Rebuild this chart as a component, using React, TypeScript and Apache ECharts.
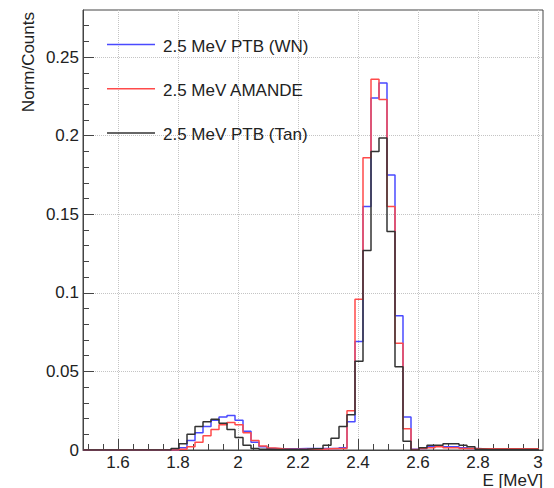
import React, { useEffect, useRef } from "react";
import * as echarts from "echarts";

// Axis ranges (E in MeV, normalised counts)
const X_MIN = 1.4833;
const X_MAX = 3.0167;
const Y_MIN = 0;
const Y_MAX = 0.28;

// Histogram binning
const BIN_START = 1.48333;
const BIN_WIDTH = 0.026667;

// Tick labels
const xMajorTicks = [1.6, 1.8, 2, 2.2, 2.4, 2.6, 2.8, 3];
const yMajorTicks = [0, 0.05, 0.1, 0.15, 0.2, 0.25];

const seriesNames = ["2.5 MeV PTB (WN)", "2.5 MeV AMANDE", "2.5 MeV PTB (Tan)"];
const seriesColors = ["#4a4aff", "#ff4a4a", "#333333"];

// Bin contents (57 bins from BIN_START)
const ptbWN = [
  0, 0, 0, 0, 0, 0, 0, 0, 0, 0, 0,
  0, 0.0015, 0.006, 0.011, 0.015, 0.019, 0.021, 0.022, 0.019, 0.012,
  0.005, 0.002, 0.001, 0.0008, 0.0008, 0.0008, 0.001, 0.001, 0.001, 0.001,
  0.001, 0.0015, 0.018, 0.069, 0.155, 0.224, 0.2335, 0.175, 0.0855, 0.021,
  0.0005, 0.001, 0.002, 0.0025, 0.002, 0.002, 0.0015, 0.001, 0.0008,
  0.0008, 0.0008, 0.0008, 0.0008, 0.0008, 0.0008, 0.0008,
];
const amande = [
  0, 0, 0, 0, 0, 0, 0, 0, 0, 0, 0,
  0, 0.0005, 0.002, 0.005, 0.009, 0.013, 0.016, 0.0175, 0.016, 0.011,
  0.006, 0.0025, 0.0012, 0.0008, 0.0005, 0.0005, 0.0005, 0.0005, 0.0005, 0.0008,
  0.001, 0.001, 0.025, 0.096, 0.186, 0.236, 0.223, 0.155, 0.068, 0.0135,
  0.0003, 0.001, 0.0015, 0.002, 0.0015, 0.0015, 0.001, 0.001, 0.0008,
  0.0008, 0.0008, 0.0008, 0.0008, 0.0008, 0.0008, 0.0008,
];
const ptbTan = [
  0, 0, 0, 0, 0, 0, 0, 0, 0, 0, 0,
  0.001, 0.004, 0.01, 0.015, 0.018, 0.0195, 0.017, 0.013, 0.008, 0.003,
  0.001, 0.0005, 0.0003, 0.0003, 0.0003, 0.0003, 0.0005, 0.0008, 0.001, 0.003,
  0.0075, 0.015, 0.0225, 0.0564, 0.127, 0.19, 0.1985, 0.139, 0.053, 0.0055,
  0, 0.0015, 0.003, 0.003, 0.004, 0.004, 0.003, 0.002, 0.0005,
  0.0003, 0.0003, 0.0003, 0.0003, 0.0003, 0.0003, 0.0003,
];

const seriesValues = [ptbWN, amande, ptbTan];

const FONT = '"Liberation Sans", Arial, Helvetica, sans-serif';
const TEXT_COLOR = "#222";
const FRAME_COLOR = "#444";

function histPoints(values: number[]): number[][] {
  const pts: number[][] = [];
  values.forEach((v, k) => {
    pts.push([BIN_START + k * BIN_WIDTH, v]);
  });
  const last = values[values.length - 1];
  pts.push([BIN_START + values.length * BIN_WIDTH, last]);
  return pts;
}

function minorValues(from: number, to: number, step: number, majors: number[], decimals: number): number[] {
  const out: number[] = [];
  const n = Math.round((to - from) / step);
  for (let i = 0; i <= n; i++) {
    const v = Number((from + i * step).toFixed(decimals));
    if (!majors.some((m) => Math.abs(m - v) < 1e-9)) out.push(v);
  }
  return out;
}

const xMinorTicks = minorValues(1.5, 3.0, 0.05, xMajorTicks, 2);
const yMinorTicks = minorValues(0, 0.27, 0.01, yMajorTicks, 2);

export default function App() {
  const ref = useRef<HTMLDivElement>(null);

  useEffect(() => {
    if (!ref.current) return;
    const chart = echarts.init(ref.current, null, { renderer: "svg" });

    const gridLine = { show: true, lineStyle: { color: "#c4c4c4", type: "dotted" as const, width: 1 } };

    const legendGraphics: any[] = [];
    seriesNames.forEach((name, i) => {
      const y = 44.5 + i * 44.2;
      legendGraphics.push({
        type: "line",
        shape: { x1: 107, y1: y, x2: 155, y2: y },
        style: { stroke: seriesColors[i], lineWidth: 1.5 },
        z: 100,
      });
      legendGraphics.push({
        type: "text",
        x: 163,
        y: y + 1.5,
        style: {
          text: name,
          font: `17px ${FONT}`,
          fill: TEXT_COLOR,
          align: "left",
          verticalAlign: "middle",
        },
        z: 100,
      });
    });

    const option: any = {
      animation: false,
      backgroundColor: "#ffffff",
      grid: {
        left: 83,
        right: 11,
        top: 10,
        bottom: 38,
        show: true,
        borderColor: FRAME_COLOR,
        borderWidth: 1,
        backgroundColor: "transparent",
        outerBoundsMode: "none",
      },
      xAxis: [
        {
          type: "value",
          min: X_MIN,
          max: X_MAX,
          position: "bottom",
          axisLine: { show: true, onZero: false, lineStyle: { color: FRAME_COLOR, width: 1 } },
          axisTick: { show: true, inside: true, length: 11, customValues: xMajorTicks, lineStyle: { color: FRAME_COLOR } },
          axisLabel: { show: true, customValues: xMajorTicks, fontSize: 17, fontFamily: FONT, color: TEXT_COLOR, margin: 4 },
          splitLine: gridLine,
        },
        {
          type: "value",
          min: X_MIN,
          max: X_MAX,
          position: "bottom",
          axisLine: { show: false },
          axisTick: { show: true, inside: true, length: 6, customValues: xMinorTicks, lineStyle: { color: FRAME_COLOR } },
          axisLabel: { show: false },
          splitLine: { show: false },
        },
      ],
      yAxis: [
        {
          type: "value",
          min: Y_MIN,
          max: Y_MAX,
          position: "left",
          axisLine: { show: true, onZero: false, lineStyle: { color: FRAME_COLOR, width: 1 } },
          axisTick: { show: true, inside: true, length: 11, customValues: yMajorTicks, lineStyle: { color: FRAME_COLOR } },
          axisLabel: { show: true, customValues: yMajorTicks, fontSize: 17, fontFamily: FONT, color: TEXT_COLOR, margin: 4 },
          splitLine: gridLine,
        },
        {
          type: "value",
          min: Y_MIN,
          max: Y_MAX,
          position: "left",
          axisLine: { show: false },
          axisTick: { show: true, inside: true, length: 6, customValues: yMinorTicks, lineStyle: { color: FRAME_COLOR } },
          axisLabel: { show: false },
          splitLine: { show: false },
        },
      ],
      series: seriesNames.map((name, i) => ({
        type: "line",
        name,
        xAxisIndex: 0,
        yAxisIndex: 0,
        step: "end",
        symbol: "none",
        showSymbol: false,
        clip: true,
        z: 2 + i,
        data: histPoints(seriesValues[i]),
        lineStyle: { color: seriesColors[i], width: 1.5 },
        itemStyle: { color: seriesColors[i] },
      })),
      graphic: [
        ...legendGraphics,
        {
          type: "text",
          x: 28,
          y: 12,
          rotation: Math.PI / 2,
          style: {
            text: "Norm/Counts",
            font: `17px ${FONT}`,
            fill: TEXT_COLOR,
            align: "right",
            verticalAlign: "middle",
          },
        },
        {
          type: "text",
          x: 543,
          y: 480,
          style: {
            text: "E [MeV]",
            font: `17px ${FONT}`,
            fill: TEXT_COLOR,
            align: "right",
            verticalAlign: "middle",
          },
        },
      ],
    };

    chart.setOption(option);
    return () => chart.dispose();
  }, []);

  return (
    <div
      ref={ref}
      style={{ position: "fixed", left: 0, top: 0, width: 554, height: 488, background: "#fff" }}
    />
  );
}
